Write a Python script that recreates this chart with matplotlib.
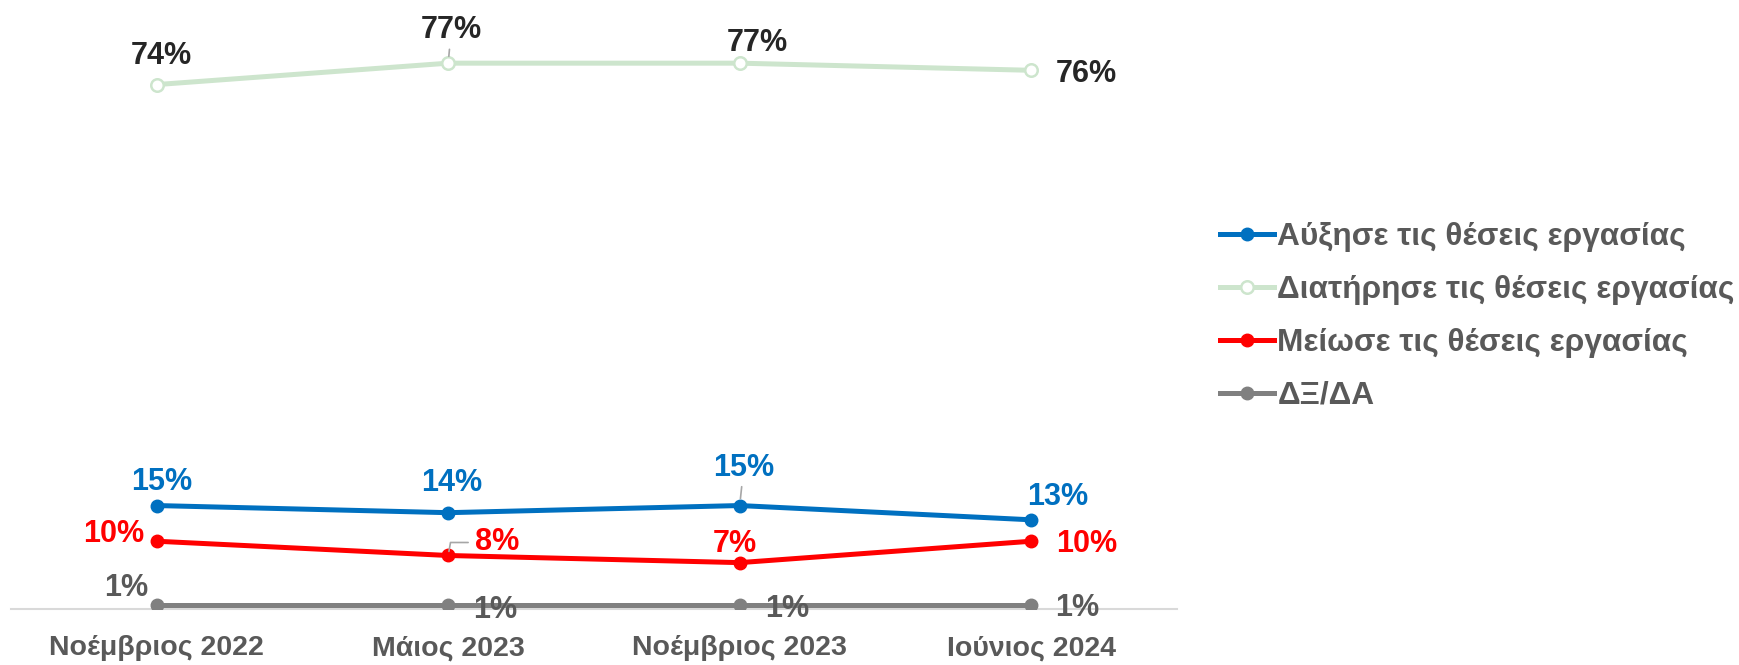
import matplotlib
matplotlib.use('Agg')
import matplotlib.pyplot as plt

plt.rcParams['font.family'] = ['Liberation Sans', 'DejaVu Sans']

# Survey waves
periods = ['Νοέμβριος 2022', 'Μάιος 2023', 'Νοέμβριος 2023', 'Ιούνιος 2024']

increased = [15, 14, 15, 13]
maintained = [74, 77, 77, 76]
decreased = [10, 8, 7, 10]
dk_na = [1, 1, 1, 1]

series_names = ['Αύξησε τις θέσεις εργασίας', 'Διατήρησε τις θέσεις εργασίας',
                'Μείωσε τις θέσεις εργασίας', 'ΔΞ/ΔΑ']

# label offsets in pixels (dx, dy)
label_offsets = {
    0: [(5, 24), (3, 30), (4, 38), (26, 23)],
    1: [(5, 29), (3, 33), (18, 20), (55, -4)],
    2: [(-43, 7), (49, 13), (-5, 19), (55, -3)],
    3: [(-31, 17), (47, -5), (47, -4), (46, -3)],
}
# points whose label gets a thin leader line
leaders = {(0, 2), (1, 1), (2, 1)}

fig = plt.figure(figsize=(17.39, 6.65), dpi=100)
ax = fig.add_axes([0.0063, 0.0842, 0.6705, 0.853])

x = range(len(periods))
line_colors = ['#0070C0', '#CDE5CD', '#FF0000', '#808080']
label_colors = ['#0070C0', '#262626', '#FF0000', '#595959']
all_values = [increased, maintained, decreased, dk_na]

for i, vals in enumerate(all_values):
    if i == 1:
        ax.plot(x, vals, color=line_colors[i], lw=3.6, marker='o', markersize=9,
                markerfacecolor='white', markeredgecolor=line_colors[i], markeredgewidth=1.8,
                label=series_names[i], zorder=2)
    else:
        ax.plot(x, vals, color=line_colors[i], lw=3.6, marker='o', markersize=9,
                label=series_names[i], zorder=3)
    for j, v in enumerate(vals):
        dx, dy = label_offsets[i][j]
        arrow = None
        if (i, j) in leaders:
            if (i, j) == (2, 1):
                arrow = dict(arrowstyle='-', color='#A6A6A6', lw=1.2, shrinkA=3, shrinkB=3,
                             connectionstyle='angle,angleA=0,angleB=80,rad=0')
            else:
                arrow = dict(arrowstyle='-', color='#A6A6A6', lw=1.2, shrinkA=1, shrinkB=5)
        ax.annotate(f'{v}%', (j, v), xytext=(dx, dy), textcoords='offset pixels',
                    ha='center', va='center', fontsize=22, fontweight='bold',
                    color=label_colors[i], arrowprops=arrow, zorder=4)

ax.set_xlim(-0.5, 3.5)
ax.set_ylim(0.5, 80)
ax.set_xticks(list(x))
ax.set_xticklabels(periods, fontsize=20.5, fontweight='bold', color='#595959')
ax.tick_params(axis='x', length=0, pad=19)
ax.set_yticks([])
for s in ['top', 'right', 'left']:
    ax.spines[s].set_visible(False)
ax.spines['bottom'].set_color('#D9D9D9')
ax.spines['bottom'].set_linewidth(1.5)

leg = fig.legend(loc='center left', bbox_to_anchor=(0.685, 0.524), frameon=False,
                 fontsize=22.8, handlelength=1.7, handletextpad=0.12, labelspacing=0.72)
for t in leg.get_texts():
    t.set_color('#595959')
    t.set_fontweight('bold')

fig.savefig('out.png', dpi=100)
